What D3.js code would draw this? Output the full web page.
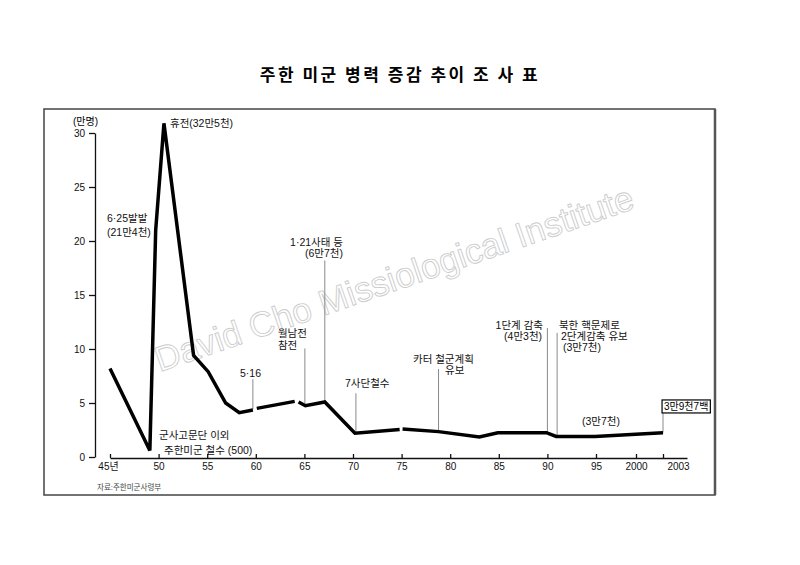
<!DOCTYPE html>
<html>
<head>
<meta charset="utf-8">
<script src="https://cdn.jsdelivr.net/npm/d3@7"></script>
<style>
    body { margin: 0; background: #fff; }
    text { font-family: "Liberation Sans", "Noto Sans CJK KR", sans-serif; }
</style>
</head>
<body>
<div id="visualization"></div>
<script>
// Troop numbers (unit: 10,000 persons); null marks a gap in the line
const years = [1945, 1949.1, 1949.7, 1950.55, 1953.6, 1955.1, 1956.9, 1958.3, 1959.7, null,
    1960.1, 1964.0, null, 1964.4, 1965.1, 1967.1, 1970.2, 1974.8, null,
    1975.1, 1978.8, 1983.0, 1984.9, 1989.9, 1990.9, 1994.9, 2003];
const troops = [8.2, 0.6, 21.0, 30.9, 9.4, 7.9, 5.0, 4.1, 4.35, null,
    4.5, 5.15, null, 5.1, 4.75, 5.1, 2.2, 2.55, null,
    2.6, 2.35, 1.85, 2.25, 2.25, 1.9, 1.9, 2.25];

const xTicks = [1945, 1950, 1955, 1960, 1965, 1970, 1975, 1980, 1985, 1990, 1995, 2000, 2003];
const xTickLabels = ["45년", "50", "55", "60", "65", "70", "75", "80", "85", "90", "95", "2000", "2003"];
const yTicks = [0, 5, 10, 15, 20, 25, 30];

// Leader lines: year, top value, value where it meets the line
const leaderYears = [1959.7, 1965.05, 1967.1, 1970.3, 1978.8, 1990.0, 1991.0, 2003];
const leaderTops = [7.2, 10.05, 18.2, 5.9, 8.15, 11.95, 11.5, 4.05];
const leaderBottoms = [4.4, 4.75, 5.1, 2.2, 2.35, 2.25, 2.0, 2.25];

// Annotation lines: text, year, value, anchor
const noteTexts = ["휴전(32만5천)", "6·25발발", "(21만4천)", "1·21사태 등", "(6만7천)",
    "월남전", "참전", "5·16", "7사단철수", "카터 철군계획", "유보",
    "1단계 감축", "(4만3천)", "북한 핵문제로", "2단계감축 유보", "(3만7천)",
    "(3만7천)", "군사고문단 이외", "주한미군 철수 (500)"];
const noteYears = [1951.17, 1944.69, 1944.69, 1968.97, 1968.97,
    1962.28, 1962.28, 1958.37, 1969.18, 1976.17, 1979.47,
    1989.55, 1989.45, 1991.19, 1991.4, 1991.6,
    1993.56, 1950.04, 1950.56];
const noteValues = [30.93, 22.13, 20.83, 19.91, 18.89,
    11.45, 10.3, 7.78, 6.85, 9.05, 8.0,
    12.18, 11.15, 12.18, 11.15, 10.12,
    3.33, 2.0, 0.6];
const noteAnchors = ["start", "start", "start", "end", "end",
    "start", "start", "start", "start", "start", "start",
    "end", "end", "start", "start", "start",
    "start", "start", "start"];

const finalLabel = "3만9천7백";
const finalYear = 2005.9;
const finalValue = 4.68;

const width = 800, height = 565;

const svg = d3.select("#visualization")
    .append("svg")
    .attr("width", width)
    .attr("height", height);

// Title
svg.append("text")
    .attr("x", 400)
    .attr("y", 81)
    .attr("text-anchor", "middle")
    .style("font-family", "Noto Sans CJK KR, sans-serif")
    .attr("font-size", 17)
    .attr("font-weight", 700)
    .attr("letter-spacing", 2.5)
    .text("주한 미군 병력 증감 추이 조 사 표");

// Frame
svg.append("rect")
    .attr("x", 44).attr("y", 109)
    .attr("width", 671).attr("height", 386)
    .attr("fill", "none")
    .attr("stroke", "#444")
    .attr("stroke-width", 1.5);
svg.append("line")
    .attr("x1", 715).attr("x2", 715)
    .attr("y1", 109).attr("y2", 495)
    .attr("stroke", "#555")
    .attr("stroke-width", 2.5);

// Watermark
svg.append("text")
    .attr("transform", "translate(398,290) rotate(-19)")
    .attr("text-anchor", "middle")
    .style("font-family", "Liberation Sans, Arial, sans-serif")
    .attr("font-size", 35)
    .attr("fill", "none")
    .attr("stroke", "#cccccc")
    .attr("stroke-width", 0.9)
    .text("David Cho Missiological Institute");

// Scales (the axis is compressed after 1995 in the original)
const xScale = d3.scaleLinear()
    .domain([1945, 1995, 2000, 2003, 2006])
    .range([110, 596, 636, 663, 687]);

const yScale = d3.scaleLinear()
    .domain([0, 30])
    .range([457, 133]);

// Axes
const xAxis = svg.append("g")
    .attr("transform", "translate(0,458)")
    .call(d3.axisBottom(xScale)
        .tickValues(xTicks)
        .tickFormat((d, i) => xTickLabels[i])
        .tickSizeInner(-4)
        .tickSizeOuter(0)
        .tickPadding(5));

xAxis.selectAll("text")
    .attr("font-size", 10)
    .attr("fill", "#111")
    .style("font-family", "Liberation Sans, Noto Sans CJK KR, sans-serif")
    .attr("dx", (d, i) => i === 0 ? "-2" : (i === xTicks.length - 1 ? "15" : "0"));

const yAxis = svg.append("g")
    .attr("transform", "translate(95,0)")
    .call(d3.axisLeft(yScale)
        .tickValues(yTicks)
        .tickSizeInner(6)
        .tickSizeOuter(0)
        .tickPadding(4));

yAxis.selectAll("text")
    .attr("font-size", 10)
    .attr("fill", "#111")
    .style("font-family", "Liberation Sans, sans-serif");

svg.selectAll(".domain, .tick line")
    .attr("stroke", "#111")
    .attr("stroke-width", 1.3);

// Unit label
svg.append("text")
    .attr("x", 73)
    .attr("y", 125)
    .attr("font-size", 10)
    .text("(만명)");

// Leader lines
svg.selectAll(".leader")
    .data(leaderYears)
    .enter()
    .append("line")
    .attr("class", "leader")
    .attr("x1", d => xScale(d))
    .attr("x2", d => xScale(d))
    .attr("y1", (d, i) => yScale(leaderTops[i]))
    .attr("y2", (d, i) => yScale(leaderBottoms[i]))
    .attr("stroke", "#8a8a8a")
    .attr("stroke-width", 1);

// Main line
const points = years.map((d, i) => ({ year: d, value: troops[i] }));

const line = d3.line()
    .defined(d => d.year !== null)
    .x(d => xScale(d.year))
    .y(d => yScale(d.value));

svg.append("path")
    .datum(points)
    .attr("d", line)
    .attr("fill", "none")
    .attr("stroke", "#000")
    .attr("stroke-width", 3.5)
    .attr("stroke-linejoin", "miter");

// Annotations
svg.selectAll(".note")
    .data(noteTexts)
    .enter()
    .append("text")
    .attr("class", "note")
    .attr("x", (d, i) => xScale(noteYears[i]))
    .attr("y", (d, i) => yScale(noteValues[i]))
    .attr("dy", "0.35em")
    .attr("text-anchor", (d, i) => noteAnchors[i])
    .attr("font-size", 10.5)
    .attr("fill", "#111")
    .text(d => d);

// Boxed final value
const finalBox = svg.append("rect");
const finalText = svg.append("text")
    .attr("x", xScale(finalYear))
    .attr("y", yScale(finalValue))
    .attr("dy", "0.35em")
    .attr("text-anchor", "middle")
    .attr("font-size", 10)
    .text(finalLabel);

const bb = finalText.node().getBBox();
finalBox
    .attr("x", bb.x - 2)
    .attr("y", yScale(finalValue) - 6.5)
    .attr("width", bb.width + 4)
    .attr("height", 13)
    .attr("fill", "#fff")
    .attr("stroke", "#000")
    .attr("stroke-width", 1.2);

// Source
svg.append("text")
    .attr("x", 97)
    .attr("y", 490)
    .attr("font-size", 7.5)
    .attr("fill", "#444")
    .text("자료:주한미군사령부");
</script>
</body>
</html>
